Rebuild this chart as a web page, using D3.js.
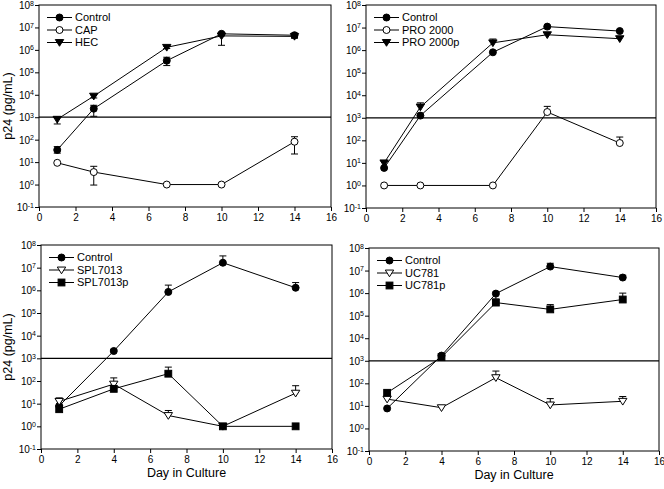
<!DOCTYPE html>
<html>
<head>
<meta charset="utf-8">
<script src="https://cdn.jsdelivr.net/npm/d3@7"></script>
<style>
  body { margin: 0; background: #fff; }
  svg { font-family: "Liberation Sans", Arial, sans-serif; }
</style>
</head>
<body>
<svg id="chart" width="664" height="489"></svg>
<script>
// Days
const daysA = [1, 3, 7, 10, 14];
const daysB = [1, 4, 7, 10, 14];
const xTicks = [0, 2, 4, 6, 8, 10, 12, 14, 16];
const yExps = [-1, 0, 1, 2, 3, 4, 5, 6, 7, 8];

// Panel 1: Control / CAP / HEC
const p1Control = [35, 2400, 3.3e5, 5.2e6, 4.5e6];
const p1ControlHi = [49, 3400, 4.7e5, null, 5.5e6];
const p1ControlLo = [25, 1100, 2.0e5, null, 3.6e6];
const p1Cap = [9.3, 3.6, 1, 1, 81];
const p1CapHi = [null, 6.5, null, null, 135];
const p1CapLo = [null, 0.95, null, null, 23];
const p1Hec = [810, 8700, 1.3e6, 4.2e6, 4.0e6];
const p1HecHi = [950, 10000, 1.45e6, null, 4.6e6];
const p1HecLo = [500, 7200, 1.15e6, 1.6e6, 3.3e6];

// Panel 2: Control / PRO 2000 / PRO 2000p
const p2Control = [6, 1250, 8e5, 1.1e7, 7e6];
const p2Pro = [1, 1, 1, 1800, 76];
const p2ProHi = [null, null, null, 3200, 140];
const p2ProP = [10, 3000, 2.1e6, 4.8e6, 3.2e6];
const p2ProPHi = [12, 4600, 3.1e6, null, null];

// Panel 3: Control / SPL7013 / SPL7013p
const p3Control = [8, 2100, 8.5e5, 1.65e7, 1.3e6];
const p3ControlHi = [null, 2500, 1.7e6, 3.3e7, 2.2e6];
const p3Spl = [12.6, 73, 3, 1, 29];
const p3SplHi = [18, 137, 5, null, 62];
const p3SplP = [5.7, 45, 210, 1, 1];
const p3SplPHi = [null, null, 410, null, null];

// Panel 4: Control / UC781 / UC781p
const p4Control = [7.7, 1700, 9.5e5, 1.5e7, 4.9e6];
const p4ControlHi = [null, null, 1.1e6, 2.1e7, 6.2e6];
const p4ControlLo = [null, null, 5.5e5, null, null];
const p4Uc = [20, 8.3, 178, 11, 16];
const p4UcHi = [null, null, 350, 21, 26];
const p4UcP = [38, 1450, 3.8e5, 1.9e5, 5.2e5];
const p4UcPHi = [null, 1800, null, 3.1e5, 1.0e6];

const panels = [
  {
    days: daysA, x0: 39, x1: 331, yTop: 5, yBot: 207, yTitle: true, xTitle: false,
    series: [
      { name: "Control", sym: "circle", fill: true, v: p1Control, hi: p1ControlHi, lo: p1ControlLo },
      { name: "CAP", sym: "circle", fill: false, v: p1Cap, hi: p1CapHi, lo: p1CapLo },
      { name: "HEC", sym: "tri", fill: true, v: p1Hec, hi: p1HecHi, lo: p1HecLo },
    ],
  },
  {
    days: daysA, x0: 366, x1: 656, yTop: 5, yBot: 208, yTitle: false, xTitle: false,
    series: [
      { name: "Control", sym: "circle", fill: true, v: p2Control },
      { name: "PRO 2000", sym: "circle", fill: false, v: p2Pro, hi: p2ProHi },
      { name: "PRO 2000p", sym: "tri", fill: true, v: p2ProP, hi: p2ProPHi },
    ],
  },
  {
    days: daysB, x0: 41, x1: 332, yTop: 245, yBot: 449, yTitle: true, xTitle: true,
    series: [
      { name: "Control", sym: "circle", fill: true, v: p3Control, hi: p3ControlHi },
      { name: "SPL7013", sym: "tri", fill: false, v: p3Spl, hi: p3SplHi },
      { name: "SPL7013p", sym: "square", fill: true, v: p3SplP, hi: p3SplPHi },
    ],
  },
  {
    days: daysB, x0: 369, x1: 659, yTop: 248, yBot: 451, yTitle: false, xTitle: true,
    series: [
      { name: "Control", sym: "circle", fill: true, v: p4Control, hi: p4ControlHi, lo: p4ControlLo },
      { name: "UC781", sym: "tri", fill: false, v: p4Uc, hi: p4UcHi },
      { name: "UC781p", sym: "square", fill: true, v: p4UcP, hi: p4UcPHi },
    ],
  },
];

const svg = d3.select("#chart");

// Marker drawing
function marker(g, s, cx, cy) {
  const fill = s.fill ? "#000" : "#fff";
  if (s.sym === "circle") {
    g.append("circle").attr("cx", cx).attr("cy", cy).attr("r", 3.5)
      .attr("fill", fill).attr("stroke", "#000").attr("stroke-width", 1);
  } else if (s.sym === "tri") {
    const r = 4.2;
    g.append("path")
      .attr("d", `M${cx - r},${cy - r * 0.7}L${cx + r},${cy - r * 0.7}L${cx},${cy + r * 0.9}Z`)
      .attr("fill", fill).attr("stroke", "#000").attr("stroke-width", 1);
  } else {
    g.append("rect").attr("x", cx - 3.4).attr("y", cy - 3.4).attr("width", 6.8).attr("height", 6.8)
      .attr("fill", fill).attr("stroke", "#000").attr("stroke-width", 1);
  }
}

panels.forEach((p) => {
  const xScale = d3.scaleLinear().domain([0, 16]).range([p.x0, p.x1]);
  const yScale = d3.scaleLog().domain([0.1, 1e8]).range([p.yBot, p.yTop]);
  const g = svg.append("g");

  // Frame
  g.append("rect")
    .attr("x", p.x0).attr("y", p.yTop)
    .attr("width", p.x1 - p.x0).attr("height", p.yBot - p.yTop)
    .attr("fill", "none").attr("stroke", "#000").attr("stroke-width", 1);

  // X axis
  const xAxis = d3.axisBottom(xScale).tickValues(xTicks).tickSize(4).tickSizeOuter(0);
  const gx = g.append("g").attr("transform", `translate(0,${p.yBot})`).call(xAxis);
  gx.select(".domain").remove();
  gx.selectAll("text").style("font-size", "10px").attr("fill", "#000");

  // Y axis
  const yAxis = d3.axisLeft(yScale).tickValues(yExps.map((e) => Math.pow(10, e)))
    .tickSize(4).tickFormat("");
  const gy = g.append("g").attr("transform", `translate(${p.x0},0)`).call(yAxis);
  gy.select(".domain").remove();
  gy.selectAll(".tick").each(function (d) {
    const t = d3.select(this).append("text")
      .attr("x", -5).attr("dy", "0.35em").attr("text-anchor", "end")
      .attr("fill", "#000").style("font-size", "10px");
    t.append("tspan").text("10");
    t.append("tspan").attr("dy", "-0.5em").style("font-size", "7px")
      .text(Math.round(Math.log10(d)));
  });

  // Threshold line at 10^3
  g.append("line")
    .attr("x1", p.x0).attr("x2", p.x1)
    .attr("y1", yScale(1000)).attr("y2", yScale(1000))
    .attr("stroke", "#000").attr("stroke-width", 1.2);

  // Series lines
  const line = d3.line().x((d) => xScale(d[0])).y((d) => yScale(d[1]));
  p.series.forEach((s) => {
    g.append("path")
      .datum(p.days.map((d, i) => [d, s.v[i]]))
      .attr("fill", "none").attr("stroke", "#000").attr("stroke-width", 1)
      .attr("d", line);
  });

  // Error bars
  p.series.forEach((s) => {
    p.days.forEach((d, i) => {
      const cx = xScale(d);
      const cy = yScale(s.v[i]);
      [s.hi, s.lo].forEach((arr) => {
        if (!arr || arr[i] == null) return;
        const ey = yScale(arr[i]);
        g.append("line").attr("x1", cx).attr("x2", cx).attr("y1", cy).attr("y2", ey)
          .attr("stroke", "#000").attr("stroke-width", 1);
        g.append("line").attr("x1", cx - 3.5).attr("x2", cx + 3.5).attr("y1", ey).attr("y2", ey)
          .attr("stroke", "#000").attr("stroke-width", 1);
      });
    });
  });

  // Markers
  p.series.forEach((s) => {
    p.days.forEach((d, i) => marker(g, s, xScale(d), yScale(s.v[i])));
  });

  // Legend
  const lg = g.append("g").attr("transform", `translate(${p.x0 + 8},${p.yTop + 12.5})`);
  p.series.forEach((s, i) => {
    const y = i * 12.5;
    lg.append("line").attr("x1", 0).attr("x2", 25).attr("y1", y).attr("y2", y)
      .attr("stroke", "#000").attr("stroke-width", 1);
    marker(lg, s, 12.5, y);
    lg.append("text").attr("x", 28).attr("y", y).attr("dy", "0.35em")
      .style("font-size", "11px").attr("fill", "#000").text(s.name);
  });

  // Titles
  if (p.yTitle) {
    g.append("text")
      .attr("transform", `translate(12,${(p.yTop + p.yBot) / 2}) rotate(-90)`)
      .attr("text-anchor", "middle").style("font-size", "12.5px").attr("fill", "#000")
      .text("p24 (pg/mL)");
  }
  if (p.xTitle) {
    g.append("text")
      .attr("x", (p.x0 + p.x1) / 2).attr("y", p.yBot + 28)
      .attr("text-anchor", "middle").style("font-size", "12.5px").attr("fill", "#000")
      .text("Day in Culture");
  }
});
</script>
</body>
</html>
